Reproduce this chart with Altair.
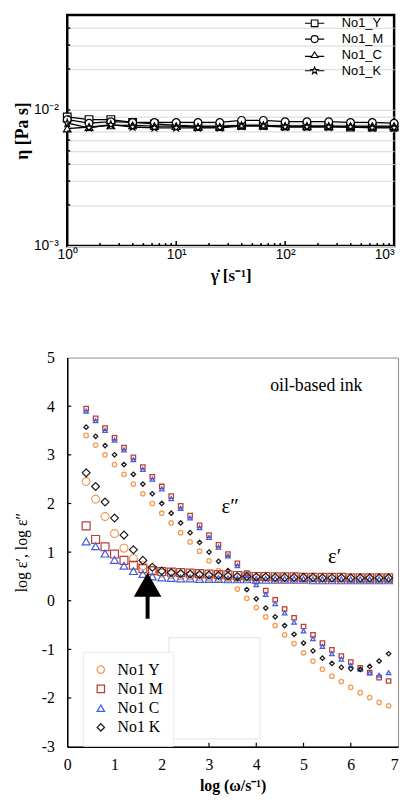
import altair as alt
import pandas as pd

SANS = "Liberation Sans"
SERIF = "Liberation Serif"

# ---------------- top panel data ----------------
shear_rate = [1.0, 1.585, 2.512, 3.981, 6.310, 10.0, 15.85, 25.12, 39.81,
              63.10, 100.0, 158.5, 251.2, 398.1, 631.0, 1000.0]
eta_Y = [0.0089, 0.0085, 0.0085, 0.0081, 0.0079, 0.0077, 0.0076, 0.0076,
         0.0077, 0.0077, 0.0076, 0.0076, 0.0076, 0.0075, 0.0075, 0.0075]
eta_M = [0.0085, 0.0080, 0.0082, 0.0081, 0.0081, 0.0081, 0.0081, 0.0081,
         0.0084, 0.0084, 0.0082, 0.0082, 0.0082, 0.0081, 0.0081, 0.0080]
eta_C = [0.0073, 0.0075, 0.0077, 0.0077, 0.0076, 0.0076, 0.0075, 0.0075,
         0.0077, 0.0077, 0.0076, 0.0076, 0.0076, 0.0076, 0.0076, 0.0076]
eta_K = [0.0080, 0.0074, 0.0078, 0.0075, 0.0074, 0.0074, 0.0074, 0.0074,
         0.0076, 0.0076, 0.0075, 0.0075, 0.0075, 0.0075, 0.0074, 0.0074]
top_series = ["No1_Y", "No1_M", "No1_C", "No1_K"]
top_x_ticks = [1, 10, 100, 1000]
top_x_minor = [2, 3, 4, 5, 6, 7, 8, 9, 20, 30, 40, 50, 60, 70, 80, 90,
               200, 300, 400, 500, 600, 700, 800, 900]
top_x_major = [10, 100]
top_y_ticks = [0.001, 0.002, 0.003, 0.004, 0.005, 0.006, 0.007, 0.008, 0.009,
               0.01, 0.02, 0.03, 0.04]

# ---------------- bottom panel data ----------------
log_omega = [0.4, 0.6, 0.8, 1.0, 1.2, 1.4, 1.6, 1.8, 2.0, 2.2, 2.4, 2.6, 2.8,
             3.0, 3.2, 3.4, 3.6, 3.8, 4.0, 4.2, 4.4, 4.6, 4.8, 5.0, 5.2, 5.4,
             5.6, 5.8, 6.0, 6.2, 6.4, 6.6, 6.8]
# epsilon' (large markers)
e1_Y = [2.45, 2.09, 1.73, 1.38, 1.08, 0.87, 0.72, 0.62, 0.57, 0.54, 0.52, 0.51,
        0.50, 0.49, 0.48, 0.48, 0.47, 0.47, 0.46, 0.46, 0.45, 0.45, 0.45, 0.45,
        0.44, 0.44, 0.44, 0.44, 0.44, 0.44, 0.44, 0.44, 0.44]
e1_M = [1.54, 1.26, 1.11, 0.96, 0.83, 0.73, 0.66, 0.62, 0.60, 0.59, 0.58, 0.57,
        0.56, 0.55, 0.54, 0.53, 0.52, 0.51, 0.50, 0.50, 0.49, 0.49, 0.49, 0.48,
        0.48, 0.48, 0.48, 0.48, 0.47, 0.47, 0.47, 0.47, 0.47]
e1_C = [1.22, 1.12, 0.97, 0.84, 0.72, 0.61, 0.55, 0.50, 0.48, 0.47, 0.46, 0.46,
        0.45, 0.45, 0.45, 0.44, 0.44, 0.44, 0.43, 0.43, 0.43, 0.43, 0.43, 0.43,
        0.42, 0.42, 0.42, 0.42, 0.42, 0.42, 0.42, 0.42, 0.42]
e1_K = [2.63, 2.35, 2.03, 1.70, 1.35, 1.05, 0.83, 0.69, 0.61, 0.58, 0.56, 0.55,
        0.54, 0.53, 0.52, 0.51, 0.50, 0.50, 0.49, 0.49, 0.48, 0.48, 0.48, 0.48,
        0.48, 0.47, 0.47, 0.47, 0.47, 0.47, 0.47, 0.47, 0.47]
# epsilon'' (small markers)
e2_Y = [3.40, 3.20, 3.00, 2.80, 2.60, 2.40, 2.20, 2.00, 1.80, 1.60, 1.40, 1.21,
        1.02, 0.82, 0.62, 0.43, 0.24, 0.05, -0.14, -0.33, -0.51, -0.70, -0.88,
        -1.07, -1.24, -1.41, -1.55, -1.66, -1.78, -1.89, -1.99, -2.09, -2.16]
e2_M = [3.95, 3.75, 3.55, 3.35, 3.15, 2.95, 2.75, 2.55, 2.35, 2.15, 1.95, 1.75,
        1.55, 1.35, 1.15, 0.96, 0.77, 0.57, 0.40, 0.21, 0.02, -0.17, -0.35,
        -0.53, -0.70, -0.87, -1.01, -1.14, -1.26, -1.38, -1.48, -1.58, -1.65]
e2_C = [3.90, 3.70, 3.50, 3.30, 3.10, 2.90, 2.70, 2.50, 2.30, 2.10, 1.90, 1.70,
        1.50, 1.30, 1.10, 0.92, 0.72, 0.52, 0.33, 0.13, -0.06, -0.25, -0.44,
        -0.62, -0.78, -0.94, -1.09, -1.20, -1.33, -1.41, -1.48, -1.53, -1.48]
e2_K = [3.57, 3.38, 3.19, 3.00, 2.80, 2.60, 2.40, 2.20, 2.00, 1.80, 1.60, 1.40,
        1.20, 1.00, 0.81, 0.62, 0.43, 0.23, 0.04, -0.15, -0.33, -0.51, -0.69,
        -0.87, -1.03, -1.18, -1.29, -1.37, -1.40, -1.41, -1.35, -1.24, -1.09]
bottom_series = ["No1 Y", "No1 M", "No1 C", "No1 K"]
bottom_colors = ["#F79A50", "#B8403A", "#3F5FE0", "#1c1c1c"]
bottom_x_ticks = [0, 1, 2, 3, 4, 5, 6, 7]
bottom_y_ticks = [-3, -2, -1, 0, 1, 2, 3, 4, 5]

# annotations (data coordinates)
note_x = [5.27, 3.45, 5.66]
note_y = [4.41, 1.93, 0.90]
note_text = ["oil-based ink", "ε″", "ε′"]
note_size = [18, 21, 21]
arrow_x = [1.7]
arrow_head_y = [0.33]
arrow_tail_y = [0.12, -0.37]
box_x = [2.15, 4.08]
box_y = [-0.76, -2.84]

# ---------------- build tables ----------------
top_rows = []
for s, vals in zip(top_series, [eta_Y, eta_M, eta_C, eta_K]):
    for r, v in zip(shear_rate, vals):
        top_rows.append({"series": s, "rate": r, "eta": v})
top_df = pd.DataFrame(top_rows)

bot_rows = []
for s, v1, v2 in zip(bottom_series, [e1_Y, e1_M, e1_C, e1_K], [e2_Y, e2_M, e2_C, e2_K]):
    for w, a, b in zip(log_omega, v1, v2):
        bot_rows.append({"series": s, "w": w, "e1": a, "e2": b})
bot_df = pd.DataFrame(bot_rows)

# ---------------- top chart ----------------
W1, H1 = 331, 234
xs_top = alt.Scale(type="log", domain=[1, 1000], nice=False)
ys_top = alt.Scale(type="log", domain=[0.001, 0.05], nice=False)

ax_top_x = alt.Axis(
    values=top_x_ticks,
    labelExpr="datum.value == 1 ? '10⁰' : datum.value == 10 ? '10¹' : datum.value == 100 ? '10²' : '10³'",
    labelAlign={"condition": {"test": "datum.value == 1000", "value": "right"}, "value": "center"},
    title="γ̇ [s⁻¹]", ticks=False, domain=False, grid=False, labelFlush=False,
    labelOverlap=False, labelFont=SANS, labelFontSize=14, labelColor="black",
    labelPadding=2, titleFont=SERIF, titleFontSize=17, titleFontWeight="bold",
    titleColor="black", titlePadding=6)
ax_top_y = alt.Axis(
    values=top_y_ticks,
    labelExpr="abs(datum.value - 0.001) < 1e-7 ? '10⁻³' : abs(datum.value - 0.01) < 1e-7 ? '10⁻²' : ''",
    title="η [Pa s]", ticks=False, domain=False, grid=True, gridColor="#d6d6d6",
    gridWidth=1, labelOverlap=False, labelFont=SANS, labelFontSize=14,
    labelColor="black", labelPadding=9, titleFont=SERIF, titleFontSize=18,
    titleFontWeight="bold", titleColor="black", titlePadding=2)


def tx(field):
    return alt.X(field + ":Q", scale=xs_top, axis=ax_top_x)


def ty(field):
    return alt.Y(field + ":Q", scale=ys_top, axis=ax_top_y)


star = ("M0,-1L0.235,-0.324L0.951,-0.309L0.38,0.124L0.588,0.809L0,0.4"
        "L-0.588,0.809L-0.38,0.124L-0.951,-0.309L-0.235,-0.324Z")
marker_shapes = ["square", "circle", "triangle-up", star]
legend_shapes = [
    "M-1.3,0H-0.45M0.45,0H1.3M-0.45,-0.45H0.45V0.45H-0.45Z",
    "M-1.3,0H-0.47M0.47,0H1.3M0.47,0A0.47,0.47,0,1,1,-0.47,0A0.47,0.47,0,1,1,0.47,0Z",
    "M-1.3,0.2H-0.3M0.3,0.2H1.3M0,-0.4L0.48,0.35L-0.48,0.35Z",
    "M-1.3,0H-0.45M0.45,0H1.3M0,-0.5L0.12,-0.16L0.48,-0.15L0.19,0.06L0.29,0.4L0,0.2"
    "L-0.29,0.4L-0.19,0.06L-0.48,-0.15L-0.12,-0.16Z",
]

lines_top = alt.Chart(top_df).mark_line(color="black", strokeWidth=1.3).encode(
    x=tx("rate"), y=ty("eta"), detail="series:N")
pts_top = alt.Chart(top_df).mark_point(
    filled=True, fill="white", stroke="black", strokeWidth=1.2, size=60, opacity=1
).encode(
    x=tx("rate"), y=ty("eta"),
    shape=alt.Shape("series:N", scale=alt.Scale(domain=top_series, range=marker_shapes), legend=None))
leg_top = alt.Chart(top_df).transform_filter("datum.rate < 0").mark_point(
    filled=False, color="black", strokeWidth=1.1, size=225, opacity=1
).encode(
    x=tx("rate"), y=ty("eta"),
    shape=alt.Shape("series:N", scale=alt.Scale(domain=top_series, range=legend_shapes),
                    legend=alt.Legend(title=None, orient="none", legendX=242, legendY=0,
                                      symbolSize=225, symbolStrokeColor="black",
                                      symbolStrokeWidth=1.1, symbolOpacity=1,
                                      labelFont=SANS, labelFontSize=13,
                                      labelColor="black", labelOffset=19, rowPadding=0,
                                      padding=0)))

xt_min = pd.DataFrame({"rate": top_x_minor})
xt_maj = pd.DataFrame({"rate": top_x_major})
yt_top = pd.DataFrame({"eta": top_y_ticks[1:]})
ticks_x_min = alt.Chart(xt_min).mark_rule(color="black", strokeWidth=1.5).encode(
    x=tx("rate"), y=alt.value(H1), y2=alt.value(H1 - 3))
ticks_x_maj = alt.Chart(xt_maj).mark_rule(color="black", strokeWidth=1.5).encode(
    x=tx("rate"), y=alt.value(H1), y2=alt.value(H1 - 5))
ticks_y_top = alt.Chart(yt_top).mark_rule(color="black", strokeWidth=1.5).encode(
    y=ty("eta"), x=alt.value(0), x2=alt.value(3))

top = alt.layer(lines_top, pts_top, leg_top, ticks_x_min, ticks_x_maj, ticks_y_top).resolve_scale(
    shape="independent").properties(
    width=W1, height=H1, view=alt.ViewBackground(stroke="black", strokeWidth=2.5))

# ---------------- bottom chart ----------------
W2, H2 = 335, 394
xs_b = alt.Scale(domain=[0, 7], nice=False, zero=False)
ys_b = alt.Scale(domain=[-3, 5], nice=False, zero=False)
leg_b = alt.Legend(title=None, orient="none", legendX=16, legendY=645,
                   padding=10, strokeColor="#ececec", fillColor="white",
                   labelFont=SERIF, labelFontSize=16, labelColor="black",
                   symbolSize=55, symbolStrokeWidth=1.3, labelOffset=9,
                   rowPadding=3.5)
color_b = alt.Color("series:N", scale=alt.Scale(domain=bottom_series, range=bottom_colors),
                    legend=leg_b)
shape_b = alt.Shape("series:N", scale=alt.Scale(domain=bottom_series,
                                                range=["circle", "square", "triangle-up", "diamond"]),
                    legend=leg_b)

ax_b_x = alt.Axis(
    values=bottom_x_ticks, labelExpr="'' + datum.value",
    labelAlign={"condition": {"test": "datum.value == 7", "value": "right"}, "value": "center"},
    title="log (ω/s⁻¹)", ticks=False,
    grid=False, domain=True, domainColor="black", domainWidth=1.5, labelFlush=False,
    labelFont=SERIF, labelFontSize=16, labelColor="black", labelPadding=10,
    titleFont=SERIF, titleFontSize=16, titleFontWeight="bold", titleColor="black",
    titlePadding=5)
ax_b_y = alt.Axis(
    values=bottom_y_ticks, labelExpr="'' + datum.value", title="log ε′,  log ε″", ticks=False,
    grid=False, domain=True, domainColor="black", domainWidth=1.5, labelFlush=False,
    labelFont=SERIF, labelFontSize=16, labelColor="black", labelPadding=13,
    titleFont=SERIF, titleFontSize=16, titleFontWeight="normal", titleColor="black",
    titlePadding=12)


def bx(field):
    return alt.X(field + ":Q", scale=xs_b, axis=ax_b_x)


def by(field):
    return alt.Y(field + ":Q", scale=ys_b, axis=ax_b_y)


box_df = pd.DataFrame({"x1": [box_x[0]], "x2": [box_x[1]], "y1": [box_y[0]], "y2": [box_y[1]]})
box = alt.Chart(box_df).mark_rect(fill="white", stroke="#e4e4e4", strokeWidth=1).encode(
    x=bx("x1"), x2="x2:Q", y=by("y1"), y2="y2:Q")

pts_e2 = alt.Chart(bot_df).mark_point(size=20, strokeWidth=1.3, filled=False, opacity=1).encode(
    x=bx("w"), y=by("e2"), color=color_b, shape=shape_b)
pts_e1 = alt.Chart(bot_df).mark_point(size=64, strokeWidth=1.2, filled=False, opacity=1).encode(
    x=bx("w"), y=by("e1"), color=color_b, shape=shape_b)

arrow_df = pd.DataFrame({"x": arrow_x, "yh": arrow_head_y,
                         "y1": [arrow_tail_y[0]], "y2": [arrow_tail_y[1]]})
shaft = alt.Chart(arrow_df).mark_rule(color="black", strokeWidth=4).encode(
    x=bx("x"), y=by("y1"), y2="y2:Q")
head = alt.Chart(arrow_df).mark_point(shape="triangle-up", size=784, filled=True,
                                      color="black", opacity=1).encode(
    x=bx("x"), y=by("yh"))

notes_df = pd.DataFrame({"x": note_x, "y": note_y, "t": note_text, "s": note_size})
notes = alt.Chart(notes_df).mark_text(font=SERIF, color="black", align="center",
                                      baseline="middle").encode(
    x=bx("x"), y=by("y"), text="t:N", size=alt.Size("s:Q", scale=None, legend=None))

bx_ticks = pd.DataFrame({"w": bottom_x_ticks[1:-1]})
by_ticks = pd.DataFrame({"e2": bottom_y_ticks[1:-1]})
tick_bx = alt.Chart(bx_ticks).mark_rule(color="black", strokeWidth=1.2).encode(
    x=bx("w"), y=alt.value(H2), y2=alt.value(H2 - 4))
tick_by = alt.Chart(by_ticks).mark_rule(color="black", strokeWidth=1.2).encode(
    y=by("e2"), x=alt.value(0), x2=alt.value(4))

bottom = alt.layer(box, pts_e2, pts_e1, shaft, head, notes, tick_bx, tick_by).properties(
    width=W2, height=H2, view=alt.ViewBackground(stroke="#8c8c8c", strokeWidth=1))

chart = alt.vconcat(top, bottom, spacing=113, bounds="flush").properties(
    padding={"left": 4, "top": 0, "right": 0, "bottom": 0}, background="white")

chart.save("out.html", embed_options={"renderer": "svg", "actions": False})
